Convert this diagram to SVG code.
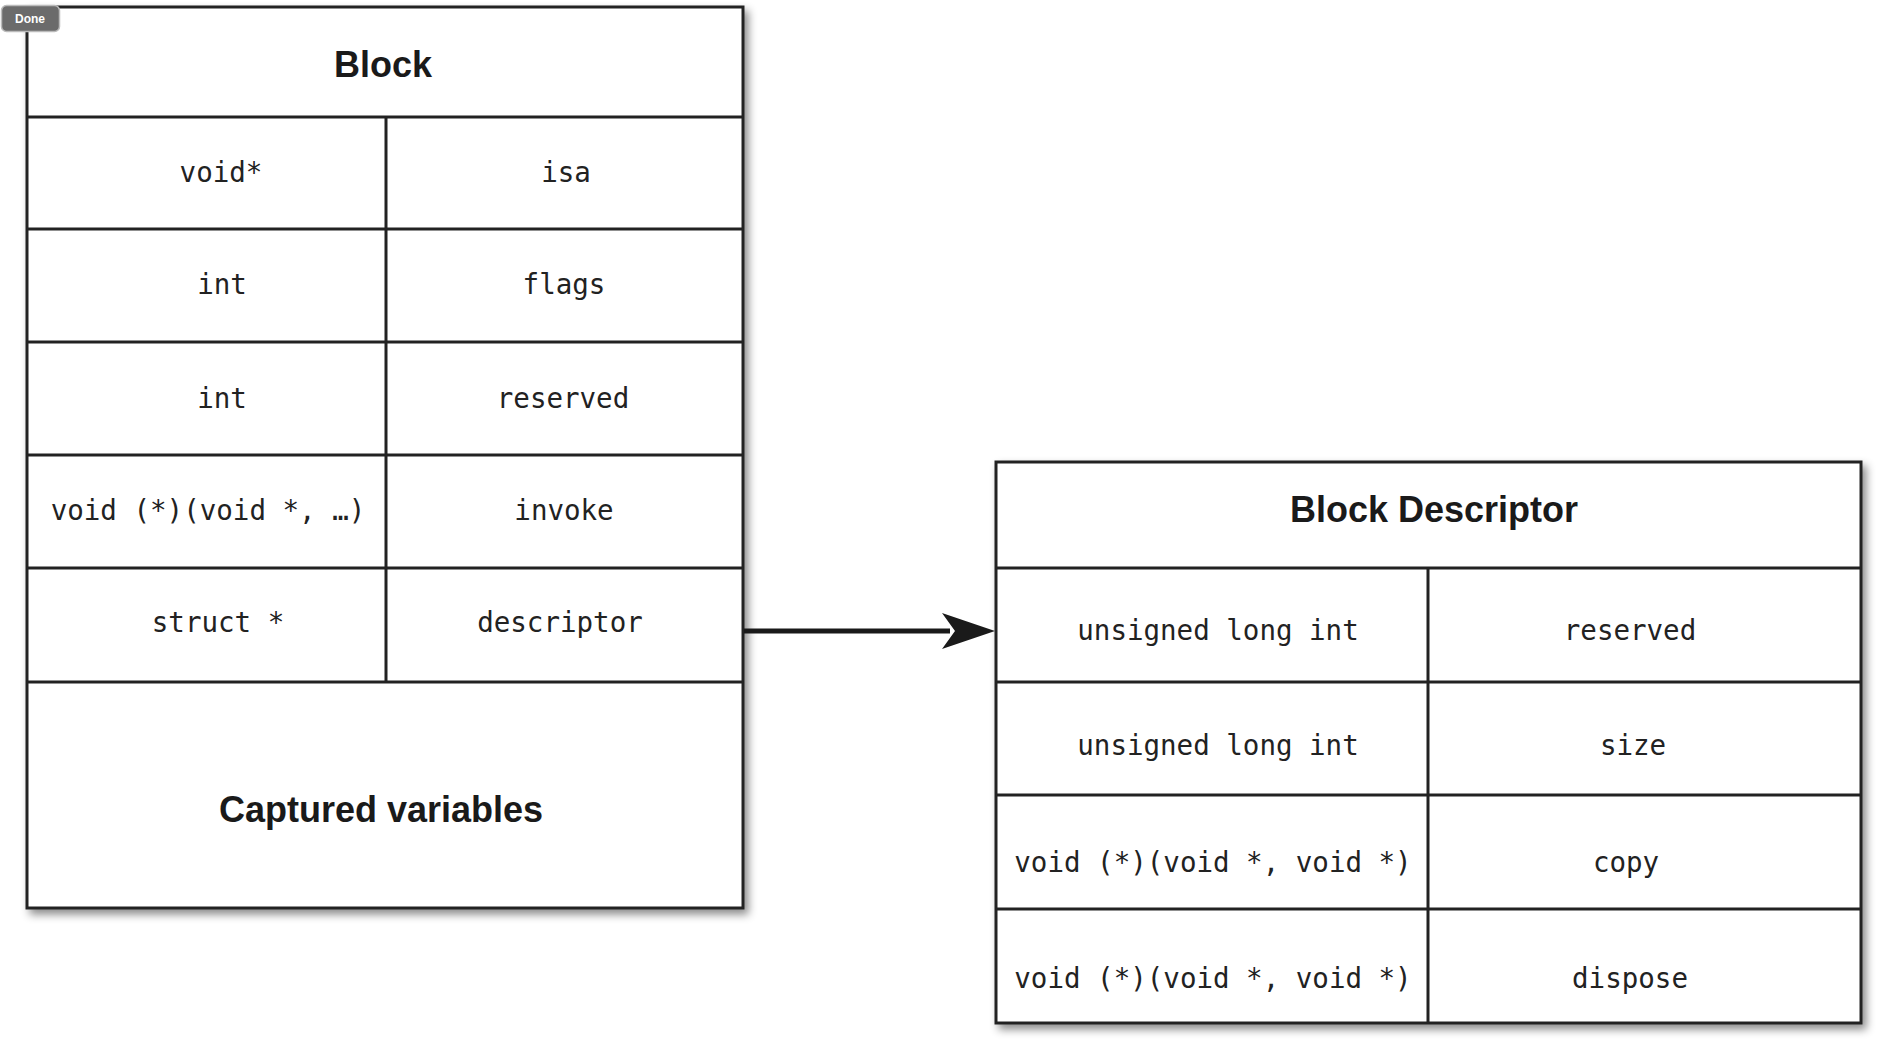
<svg xmlns="http://www.w3.org/2000/svg" width="1883" height="1039" viewBox="0 0 1883 1039">
<style>
.box{fill:#fff;stroke:#222;stroke-width:3}
.ln{stroke:#222;stroke-width:3;fill:none}
.mono{font-family:"DejaVu Sans Mono","Liberation Mono",monospace;font-size:27.5px;fill:#222;text-anchor:middle}
.ttl{font-family:"Liberation Sans",Arial,sans-serif;font-weight:bold;font-size:36px;fill:#1a1a1a;text-anchor:middle}
</style>
<defs>
<filter id="sh" x="-5%" y="-5%" width="115%" height="115%">
<feDropShadow dx="4" dy="5" stdDeviation="4" flood-color="#000" flood-opacity="0.45"/>
</filter>
</defs>
<rect width="1883" height="1039" fill="#fff"/>
<g id="block">
<rect class="box" x="27" y="7" width="716" height="901" filter="url(#sh)"/>
<path class="ln" d="M27 117H743M27 229H743M27 342H743M27 455H743M27 568H743M27 682H743M386 117V682"/>
<text class="ttl" x="383" y="77">Block</text>
<text class="mono" x="221" y="182">void*</text>
<text class="mono" x="566" y="182">isa</text>
<text class="mono" x="222" y="294">int</text>
<text class="mono" x="564" y="294">flags</text>
<text class="mono" x="222" y="408">int</text>
<text class="mono" x="563" y="408">reserved</text>
<text class="mono" x="208" y="520">void (*)(void *, …)</text>
<text class="mono" x="564" y="520">invoke</text>
<text class="mono" x="218" y="632">struct *</text>
<text class="mono" x="560" y="632">descriptor</text>
<text class="ttl" x="381" y="822">Captured variables</text>
</g>
<g id="block-descriptor">
<rect class="box" x="996" y="462" width="865" height="561" filter="url(#sh)"/>
<path class="ln" d="M996 568H1861M996 682H1861M996 795H1861M996 909H1861M1428 568V1023"/>
<text class="ttl" x="1434" y="522">Block Descriptor</text>
<text class="mono" x="1218" y="640">unsigned long int</text>
<text class="mono" x="1630" y="640">reserved</text>
<text class="mono" x="1218" y="755">unsigned long int</text>
<text class="mono" x="1633" y="755">size</text>
<text class="mono" x="1213" y="872">void (*)(void *, void *)</text>
<text class="mono" x="1626" y="872">copy</text>
<text class="mono" x="1213" y="988">void (*)(void *, void *)</text>
<text class="mono" x="1630" y="988">dispose</text>
</g>
<g id="connectors">
<line x1="744" y1="631" x2="950" y2="631" stroke="#1a1a1a" stroke-width="5"/>
<polygon points="995,631 942,613 955,631 942,649" fill="#1a1a1a"/>
</g>
<g id="done-button">
<rect x="1.5" y="5.5" width="58" height="26" rx="5" fill="#6b6b6b" stroke="#bbb" stroke-width="1.5"/>
<text x="30" y="23" font-family="'Liberation Sans',Arial,sans-serif" font-weight="bold" font-size="12px" fill="#fff" text-anchor="middle">Done</text>
</g>
</svg>
